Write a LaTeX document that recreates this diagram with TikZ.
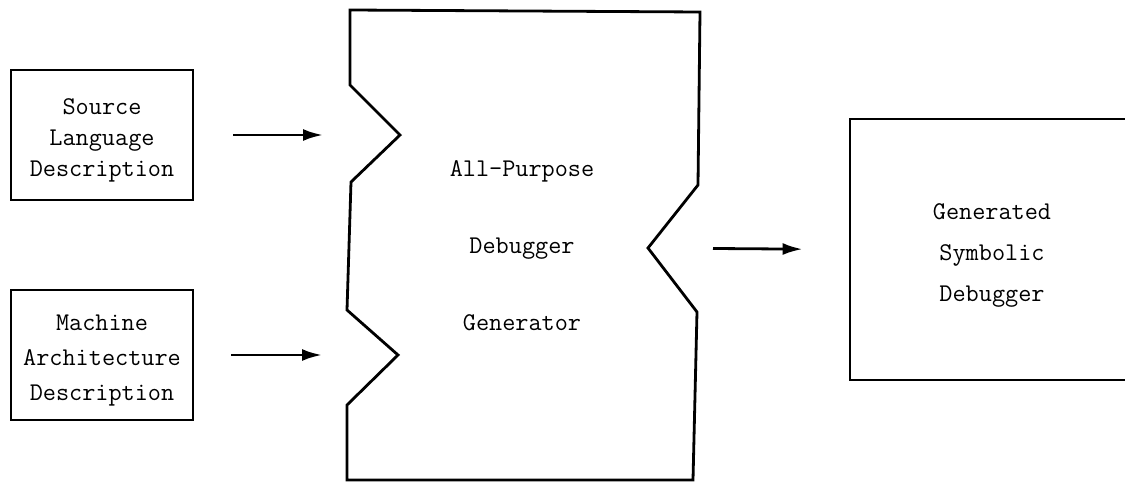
\documentclass[tikz,border=0pt]{standalone}
\usepackage{tikz}
\usetikzlibrary{arrows.meta,positioning,calc}

\begin{document}
\begin{tikzpicture}[x=1pt,y=-1pt,line width=2.8pt,
        txt/.style={font=\ttfamily\fontsize{25.5}{31}\selectfont,align=center,line width=0pt},
        inbox/.style={draw,minimum width=182pt,minimum height=130pt,inner sep=0pt},
        flow/.style={-{Latex[length=20pt,width=12pt]}}]
        \useasboundingbox (0,0) rectangle (1125,484);

        % input boxes
        \node[inbox,label={[txt,yshift=-5pt]center:Source\\Language\\Description}] (src) at (102,135) {};
        \node[inbox,label={[txt,yshift=-6pt]center:Machine\\[4pt]Architecture\\[4pt]Description}] (mach) at (102,355) {};

        % generator outline
        \coordinate (tip1) at (400,135);
        \coordinate (tip2) at (398,355);
        \coordinate (tip3) at (648,248);
        \draw[line join=miter] (350,10) -- (700,12) -- (698,185) -- (tip3) -- (697,312) -- (693,480)
            -- (347,480) -- (347,405) -- (tip2) -- (347,310) -- (351,182) -- (tip1) -- (350,85) -- cycle;
        \node[txt] (gen) at (522,246) {All-Purpose\\[46pt]Debugger\\[46pt]Generator};

        % output box
        \node[draw,minimum width=284pt,minimum height=261pt,
            label={[txt,yshift=-6pt]center:Generated\\[10pt]Symbolic\\[10pt]Debugger}] (sym) at (992,249.5) {};

        \draw[flow,shorten <=39pt,shorten >=77pt] (src.east) -- (tip1);
        \draw[flow,shorten <=37pt,shorten >=76pt] (mach.east) -- (tip2);
        \draw[flow,shorten <=65pt,shorten >=46pt] (tip3) -- (sym.west);
    \end{tikzpicture}
\end{document}
